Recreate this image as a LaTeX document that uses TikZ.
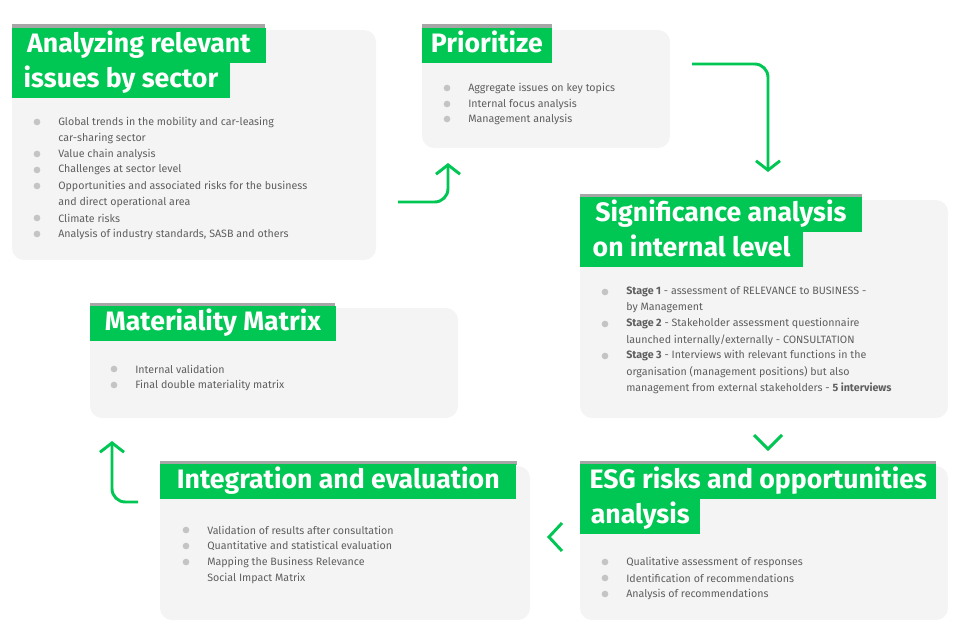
\documentclass[tikz,border=0pt]{standalone}
\usepackage{fontspec}
\setmainfont{Fira Sans}
\usetikzlibrary{positioning,arrows.meta}
\definecolor{brandgreen}{HTML}{00C653}
\definecolor{panelgray}{HTML}{F4F4F4}
\definecolor{textgray}{HTML}{5F5F5F}
\definecolor{dotgray}{HTML}{C4C4C4}
\begin{document}
\begin{tikzpicture}[x=0.75pt,y=-0.75pt,
    panel/.style ={draw=none, fill=panelgray, rounded corners=9pt},
    head_line/.style ={fill=brandgreen, text=white, font=\fontsize{20}{22}\selectfont\bfseries, anchor=north west, inner xsep=4pt, inner ysep=0pt, minimum height=26pt},
    bar/.style ={draw=black!35, line width=2.4pt},
    item/.style ={anchor=west, text=textgray, font=\fontsize{8}{9}\selectfont, inner sep=0pt},
    dot/.style ={circle, fill=dotgray, inner sep=0pt, minimum size=5pt},
    flow/.style ={draw=brandgreen, line width=2.2pt, rounded corners=10pt, -{Straight Barb[length=7pt,width=18pt]}},
    chevron/.style ={draw=brandgreen, line width=2.2pt}]
    \useasboundingbox (0,0) rectangle (960,632);
    % panels
    \fill[panel] (12,30) rectangle (376,260);
    \fill[panel] (422,30) rectangle (670,148);
    \fill[panel] (580,200) rectangle (948,418);
    \fill[panel] (90,308) rectangle (458,418);
    \fill[panel] (160,466) rectangle (530,620);
    \fill[panel] (580,466) rectangle (948,620);
    % header bars
    \draw[bar] (12,26) -- (265,26);
    \draw[bar] (422,26) -- (552,26);
    \draw[bar] (580,196) -- (862,196);
    \draw[bar] (90,305) -- (335,305);
    \draw[bar] (160,463) -- (517,463);
    \draw[bar] (580,463) -- (936,463);
    % headings
    \node[head_line, minimum width=190pt] (h1a) at (12,28) {Analyzing relevant\strut};
    \node[head_line, minimum width=163pt, below=0pt of h1a.south west, anchor=north west] (h1b) {issues by sector\strut};
    \node[head_line, minimum width=97pt] (h2) at (422,28) {Prioritize\strut};
    \node[head_line, minimum width=211pt] (h3a) at (580,197) {Significance analysis\strut};
    \node[head_line, minimum width=167pt, below=0pt of h3a.south west, anchor=north west] (h3b) {on internal level\strut};
    \node[head_line, minimum width=184pt] (h4) at (90,306) {Materiality Matrix\strut};
    \node[head_line, minimum width=267pt] (h5) at (160,464) {Integration and evaluation\strut};
    \node[head_line, minimum width=267pt] (h6a) at (580,464) {ESG risks and opportunities\strut};
    \node[head_line, minimum width=90pt, below=0pt of h6a.south west, anchor=north west] (h6b) {analysis\strut};
    % bullet lists
    \foreach \y/\t in {122/Global trends in the mobility and car-leasing /, 154/Value chain analysis, 170/Challenges at sector level, 186/Opportunities and associated risks for the business, 218/Climate risks, 234/Analysis of industry standards{,} SASB and others}
      {\node[dot] at (37,\y) {}; \node[item] at (58,\y) {\t};}
    \node[item] at (58,138) {car-sharing sector};
    \node[item] at (58,202) {and direct operational area};
    \foreach \y/\t in {88/Aggregate issues on key topics, 104/Internal focus analysis, 119/Management analysis}
      {\node[dot] at (447,\y) {}; \node[item] at (468,\y) {\t};}
    \foreach \y in {292,324,356} \node[dot] at (605,\y) {};
    \node[item] at (626,292) {\textbf{Stage 1} - assessment of RELEVANCE to BUSINESS -};
    \node[item] at (626,308) {by Management};
    \node[item] at (626,324) {\textbf{Stage 2} - Stakeholder assessment questionnaire};
    \node[item] at (626,340) {launched internally/externally - CONSULTATION};
    \node[item] at (626,356) {\textbf{Stage 3} - Interviews with relevant functions in the};
    \node[item] at (626,372) {organisation (management positions) but also};
    \node[item] at (626,388) {management from external stakeholders - \textbf{5 interviews}};
    \foreach \y/\t in {369/Internal validation, 385/Final double materiality matrix}
      {\node[dot] at (114,\y) {}; \node[item] at (135,\y) {\t};}
    \foreach \y/\t in {530/Validation of results after consultation, 546/Quantitative and statistical evaluation, 562/Mapping the Business Relevance / Environmental and}
      {\node[dot] at (186,\y) {}; \node[item] at (207,\y) {\t};}
    \node[item] at (207,578) {Social Impact Matrix};
    \foreach \y/\t in {562/Qualitative assessment of responses, 578/Identification of recommendations, 594/Analysis of recommendations}
      {\node[dot] at (605,\y) {}; \node[item] at (626,\y) {\t};}
    % connectors
    \coordinate (a1s) at (398,202); \coordinate (a1e) at (448,163);
    \coordinate (a2s) at (692,64); \coordinate (a2e) at (768,172);
    \coordinate (a5s) at (138,502); \coordinate (a5e) at (112,441);
    \draw[flow] (a1s) -| (a1e);
    \draw[flow] (a2s) -| (a2e);
    \draw[flow] (a5s) -| (a5e);
    \draw[chevron] (754,435) -- (768,449) -- (782,435);
    \draw[chevron] (562,523) -- (549,537) -- (562,551);
\end{tikzpicture}
\end{document}
